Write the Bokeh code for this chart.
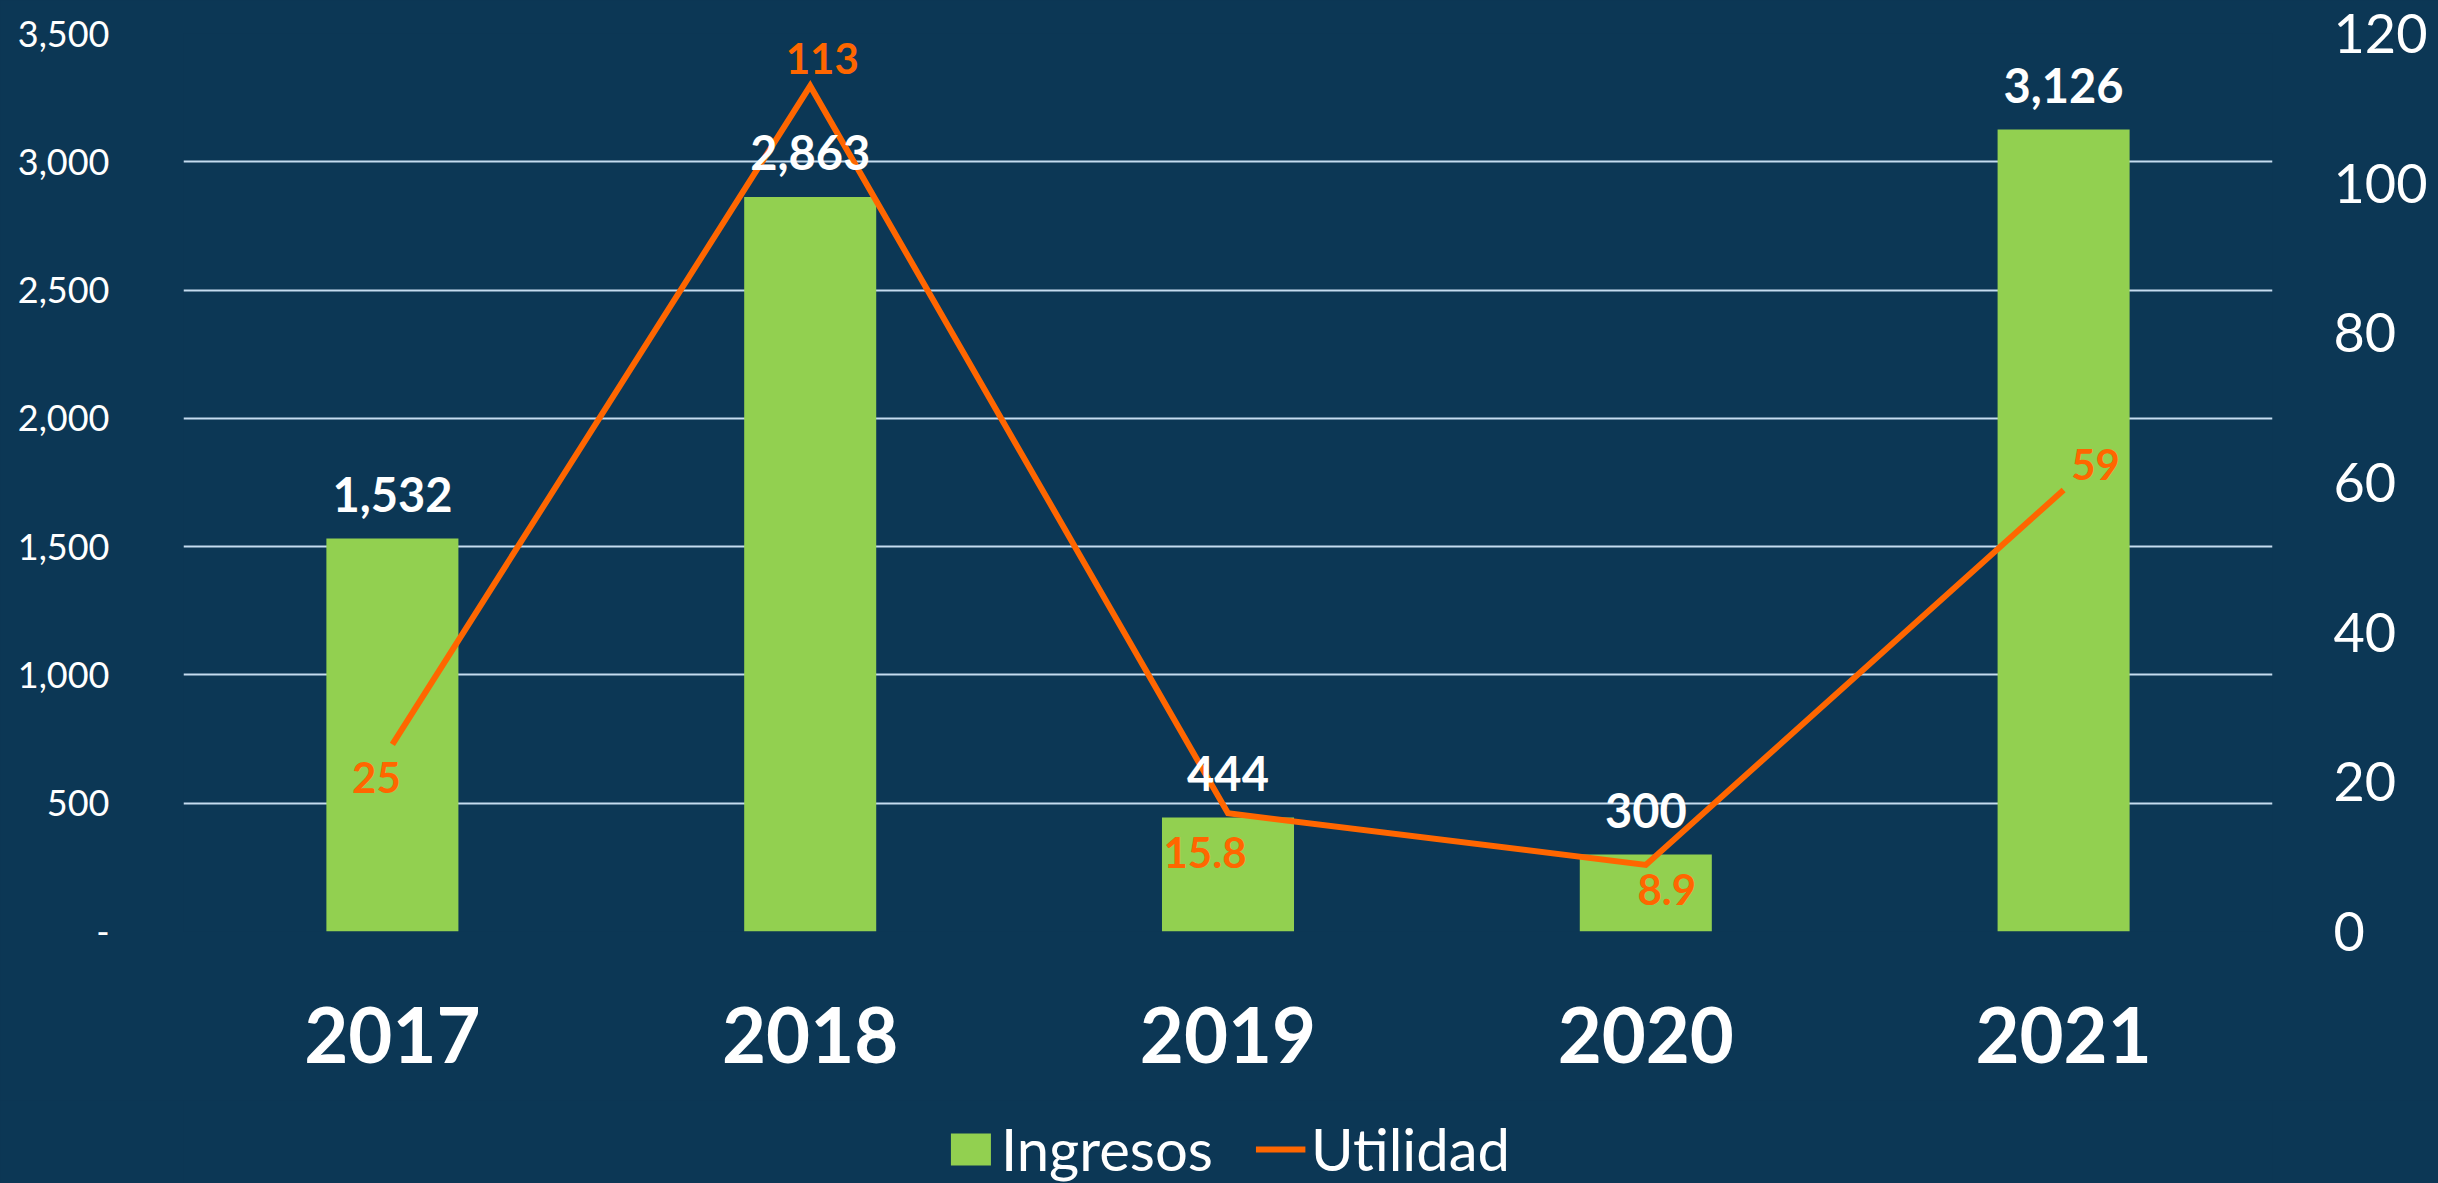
from bokeh.plotting import figure
from bokeh.layouts import column
from bokeh.models import (ColumnDataSource, FactorRange, Range1d, LinearAxis, FixedTicker,
                          NumeralTickFormatter, Legend, LegendItem)
from bokeh.core.properties import value
from bokeh.embed import file_html
from bokeh.resources import INLINE

# ---- data ----
years = ["2017", "2018", "2019", "2020", "2021"]
ingresos = [1532, 2863, 444, 300, 3126]
ingresos_labels = ["1,532", "2,863", "444", "300", "3,126"]
utilidad = [25, 113, 15.8, 8.9, 59]
utilidad_labels = ["25", "113", "15.8", "8.9", "59"]
left_ticks = [0, 500, 1000, 1500, 2000, 2500, 3000, 3500]
right_ticks = [0, 20, 40, 60, 80, 100, 120]

# label placement offsets (screen px) for the Utilidad labels
util_dx = [-16, 12, -23, 21, 32]
util_dy = [33, -27, 39, 25, -25]

BG = "#0C3755"
GREEN = "#92D050"
ORANGE = "#FF6600"
GRID = "#C5DCEF"

W, H1, H2 = 2438, 1100, 83

p = figure(width=W, height=H1, x_range=FactorRange(*years), y_range=Range1d(0, 3500),
           output_backend="svg", toolbar_location=None,
           min_border_left=183, min_border_right=166, min_border_top=33, min_border_bottom=169)
p.background_fill_color = BG
p.border_fill_color = BG
p.outline_line_color = None
p.extra_y_ranges = {"util": Range1d(0, 120)}

src = ColumnDataSource(dict(x=years, ing=ingresos, ing_lab=ingresos_labels,
                            util=utilidad, util_lab=utilidad_labels,
                            dx=util_dx, dy=util_dy))

p.vbar(x="x", top="ing", width=0.316, source=src, fill_color=GREEN, line_color=None)
p.line(x="x", y="util", source=src, y_range_name="util", line_color=ORANGE,
       line_width=6, line_join="miter")

p.text(x="x", y="ing", text="ing_lab", source=src, text_color="white",
       text_font=value("Lato"), text_font_style="bold", text_font_size="47px",
       text_align="center", text_baseline="middle", y_offset=-44)
p.text(x="x", y="util", text="util_lab", source=src, y_range_name="util", text_color=ORANGE,
       text_font=value("Lato"), text_font_style="bold", text_font_size="42px",
       text_align="center", text_baseline="middle", x_offset="dx", y_offset="dy")

# axes
p.xaxis.axis_line_color = None
p.xaxis.major_tick_line_color = None
p.xaxis.major_tick_out = 0
p.xaxis.minor_tick_line_color = None
p.xaxis.major_label_text_color = "white"
p.xaxis.major_label_text_font = "Lato"
p.xaxis.major_label_text_font_style = "bold"
p.xaxis.major_label_text_font_size = "76px"
p.xaxis.major_label_standoff = 75

p.yaxis.ticker = FixedTicker(ticks=left_ticks)
p.yaxis.formatter = NumeralTickFormatter(format="0,0")
p.yaxis.major_label_overrides = {0: "-"}
p.yaxis.axis_line_color = None
p.yaxis.major_tick_line_color = None
p.yaxis.major_tick_out = 0
p.yaxis.minor_tick_line_color = None
p.yaxis.major_label_text_color = "white"
p.yaxis.major_label_text_font = "Lato"
p.yaxis.major_label_text_font_size = "36px"
p.yaxis.major_label_standoff = 74

ra = LinearAxis(y_range_name="util", ticker=FixedTicker(ticks=right_ticks))
ra.axis_line_color = None
ra.major_tick_line_color = None
ra.major_tick_out = 0
ra.minor_tick_line_color = None
ra.major_label_text_color = "white"
ra.major_label_text_font = "Lato"
ra.major_label_text_font_size = "54px"
ra.major_label_standoff = 61
p.add_layout(ra, "right")

p.xgrid.grid_line_color = None
p.ygrid.ticker = FixedTicker(ticks=left_ticks)
p.ygrid.grid_line_color = GRID
p.ygrid.grid_line_width = 2

# ---- legend strip (same series, kept far below its visible range; only the legend shows) ----
q = figure(width=W, height=H2, x_range=FactorRange(*years), y_range=Range1d(10000, 10001),
           output_backend="svg", toolbar_location=None,
           min_border_left=0, min_border_right=0, min_border_top=0, min_border_bottom=0)
q.axis.visible = False
q.grid.visible = False
q.outline_line_color = None
q.background_fill_color = BG
q.border_fill_color = BG
kb = q.vbar(x="x", top="ing", width=0.316, source=src, fill_color=GREEN, line_color=None)
kl = q.line(x="x", y="util", source=src, line_color=ORANGE, line_width=6)

legend = Legend(items=[LegendItem(label="Ingresos", renderers=[kb]),
                       LegendItem(label="Utilidad", renderers=[kl])],
                orientation="horizontal", location="bottom_center",
                glyph_width=50, glyph_height=40, label_standoff=6, spacing=42,
                padding=0, margin=0, background_fill_alpha=0, border_line_color=None,
                label_text_color="white", label_text_font="Lato", label_text_font_size="58px")
q.add_layout(legend, "center")

layout = column(p, q, spacing=0)
html = file_html(layout, INLINE)
i = html.rfind("</head>")
html = html[:i] + "<style>html,body{background-color:%s;}</style>" % BG + html[i:]
open("out.html", "w").write(html)
